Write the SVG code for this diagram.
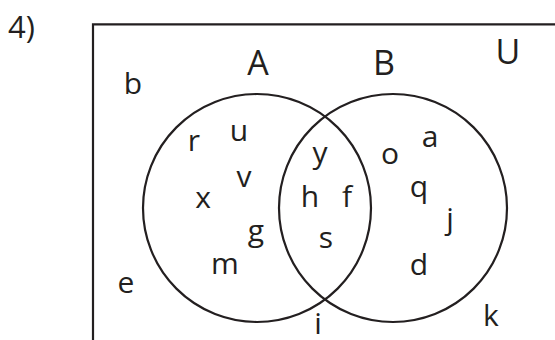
<svg xmlns="http://www.w3.org/2000/svg" width="555" height="340" viewBox="0 0 555 340">
<style>
.ln{fill:none;stroke:#231f20;stroke-width:2.2}
text{font-family:"Open Sans","Liberation Sans",sans-serif;fill:#231f20;text-anchor:middle}
.el{font-size:30px}
.lb{font-size:34px}
</style>
<rect width="555" height="340" fill="#fff"/>
<text x="8" y="38" style="font-size:31px;text-anchor:start">4)</text>
<g id="universe">
<path class="ln" d="M93 342 V24.3 H557"/>
<text class="lb" x="508" y="64">U</text>
<text class="el" x="133" y="94">b</text>
<text class="el" x="126" y="293">e</text>
<text class="el" x="318" y="334">i</text>
<text class="el" x="491" y="326">k</text>
</g>
<g id="setA">
<circle class="ln" cx="257" cy="208" r="114"/>
<text class="lb" x="258" y="75">A</text>
<text class="el" x="194" y="151">r</text>
<text class="el" x="239" y="141">u</text>
<text class="el" x="244" y="187">v</text>
<text class="el" x="203" y="208">x</text>
<text class="el" x="256" y="241">g</text>
<text class="el" x="225" y="274">m</text>
</g>
<g id="setB">
<circle class="ln" cx="393" cy="208" r="114"/>
<text class="lb" x="384" y="75">B</text>
<text class="el" x="390" y="164">o</text>
<text class="el" x="430" y="147">a</text>
<text class="el" x="419" y="197">q</text>
<text class="el" x="450" y="229">j</text>
<text class="el" x="419" y="275">d</text>
</g>
<g id="intersection">
<text class="el" x="320" y="163">y</text>
<text class="el" x="310" y="207">h</text>
<text class="el" x="347" y="207">f</text>
<text class="el" x="326" y="248">s</text>
</g>
</svg>
